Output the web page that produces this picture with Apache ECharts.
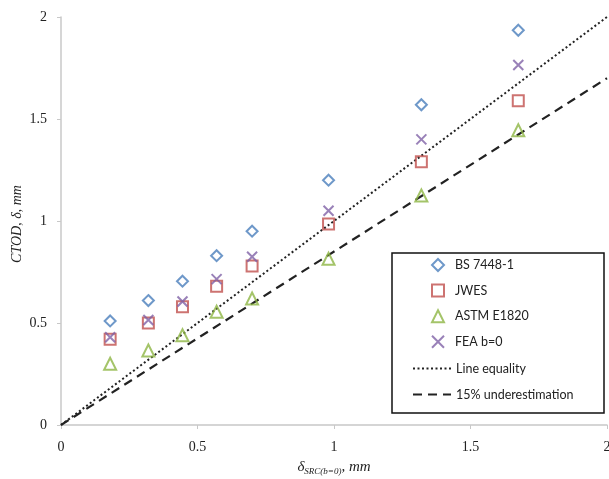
<!DOCTYPE html>
<html>
<head>
<meta charset="utf-8">
<script src="https://cdn.jsdelivr.net/npm/echarts@6/dist/echarts.min.js"></script>
<style>
	html, body { margin: 0; padding: 0; background: #fff; }
	#chart { width: 609px; height: 479px; }
</style>
</head>
<body>
<div id="chart"></div>
<script>
// delta SRC (b=0), mm
const deltaSrc = [0.18, 0.32, 0.445, 0.57, 0.70, 0.98, 1.32, 1.675]
const bs7448 = [0.51, 0.61, 0.705, 0.83, 0.95, 1.20, 1.57, 1.935]
const jwes = [0.42, 0.50, 0.58, 0.68, 0.78, 0.985, 1.29, 1.59]
const astm = [0.30, 0.365, 0.44, 0.555, 0.62, 0.815, 1.125, 1.445]
const feaB0 = [0.43, 0.515, 0.605, 0.715, 0.825, 1.05, 1.40, 1.765]
const lineEquality = [[0, 0], [2, 2]]
const underest15 = [[0, 0], [2, 1.7]]
const axisTicks = [0, 0.5, 1, 1.5, 2]

const pairs = ys => deltaSrc.map((x, i) => [x, ys[i]])

const crossPath = 'path://M0,0L10,10M10,0L0,10'
const legendFont = { fontFamily: 'Lato', fontSize: 12.5, color: '#222' }

function scatter(name, ys, symbol, size, color) {
	return {
		name: name,
		type: 'scatter',
		data: pairs(ys),
		symbol: symbol,
		symbolSize: size,
		itemStyle: { color: 'rgba(255,255,255,0)', borderColor: color, borderWidth: 2 },
		z: 3
	}
}

const myChart = echarts.init(document.getElementById('chart'))
myChart.setOption({
	animation: false,
	backgroundColor: '#fff',
	grid: { left: 61, right: 2, top: 17, bottom: 54, outerBoundsMode: 'none' },
	xAxis: {
		type: 'value',
		min: axisTicks[0],
		max: axisTicks[axisTicks.length - 1],
		interval: 0.5,
		splitLine: { show: false },
		axisLine: { lineStyle: { color: '#c8c8c8', width: 1.5 } },
		axisTick: { show: true, length: 4, lineStyle: { color: '#c8c8c8' } },
		axisLabel: { color: '#222', fontSize: 14, margin: 15, fontFamily: 'Liberation Serif' },
		name: '{d|δ}{s|SRC(b=0)}{d|, mm}',
		nameLocation: 'middle',
		nameGap: 34,
		nameTextStyle: {
			rich: {
				d: { fontFamily: 'Liberation Serif', fontStyle: 'italic', fontSize: 15, color: '#222' },
				s: { fontFamily: 'Liberation Serif', fontStyle: 'italic', fontSize: 9, color: '#222', verticalAlign: 'bottom', padding: [8, 0, 0, 0] }
			}
		}
	},
	yAxis: {
		type: 'value',
		min: axisTicks[0],
		max: axisTicks[axisTicks.length - 1],
		interval: 0.5,
		splitLine: { show: false },
		axisLine: { show: true, lineStyle: { color: '#c8c8c8', width: 1.5 } },
		axisTick: { show: true, length: 4, lineStyle: { color: '#c8c8c8' } },
		axisLabel: { color: '#222', fontSize: 14, margin: 14, fontFamily: 'Liberation Serif' }
	},
	legend: [
		{
			orient: 'vertical',
			left: 426,
			top: 253,
			itemWidth: 12,
			itemHeight: 12,
			itemGap: 11.6,
			textStyle: Object.assign({ padding: [0, 0, 0, 6] }, legendFont),
			data: ['BS 7448-1', 'JWES', 'ASTM E1820', 'FEA b=0']
		},
		{
			orient: 'vertical',
			left: 407,
			top: 357,
			itemWidth: 38,
			itemHeight: 12,
			itemGap: 13,
			textStyle: legendFont,
			data: [
				{ name: 'Line equality', itemStyle: { opacity: 0 } },
				{ name: '15% underestimation', itemStyle: { opacity: 0 } }
			]
		}
	],
	graphic: [
		{
			type: 'rect',
			shape: { x: 392, y: 253, width: 212, height: 160 },
			style: { fill: 'none', stroke: '#111', lineWidth: 1.5 },
			z: 10
		},
		{
			// y-axis title
			type: 'text',
			x: 17,
			y: 224,
			rotation: Math.PI / 2,
			style: {
				text: 'CTOD, δ, mm',
				fontFamily: 'Liberation Serif',
				fontStyle: 'italic',
				fontSize: 14,
				fill: '#222',
				align: 'center',
				verticalAlign: 'middle'
			}
		}
	],
	series: [
		{
			name: 'Line equality',
			type: 'line',
			data: lineEquality,
			symbol: 'none',
			itemStyle: { color: '#222' },
			lineStyle: { color: '#222', width: 2, type: [2, 2.5] },
			z: 2
		},
		{
			name: '15% underestimation',
			type: 'line',
			data: underest15,
			symbol: 'none',
			itemStyle: { color: '#222' },
			lineStyle: { color: '#222', width: 2.2, type: [9, 6] },
			z: 2
		},
		scatter('BS 7448-1', bs7448, 'diamond', 11, '#4a7ebb'),
		scatter('JWES', jwes, 'rect', 11, '#c0504d'),
		scatter('ASTM E1820', astm, 'triangle', 12, '#8db543'),
		scatter('FEA b=0', feaB0, crossPath, 10, '#7f62a6')
	]
})
</script>
</body>
</html>
